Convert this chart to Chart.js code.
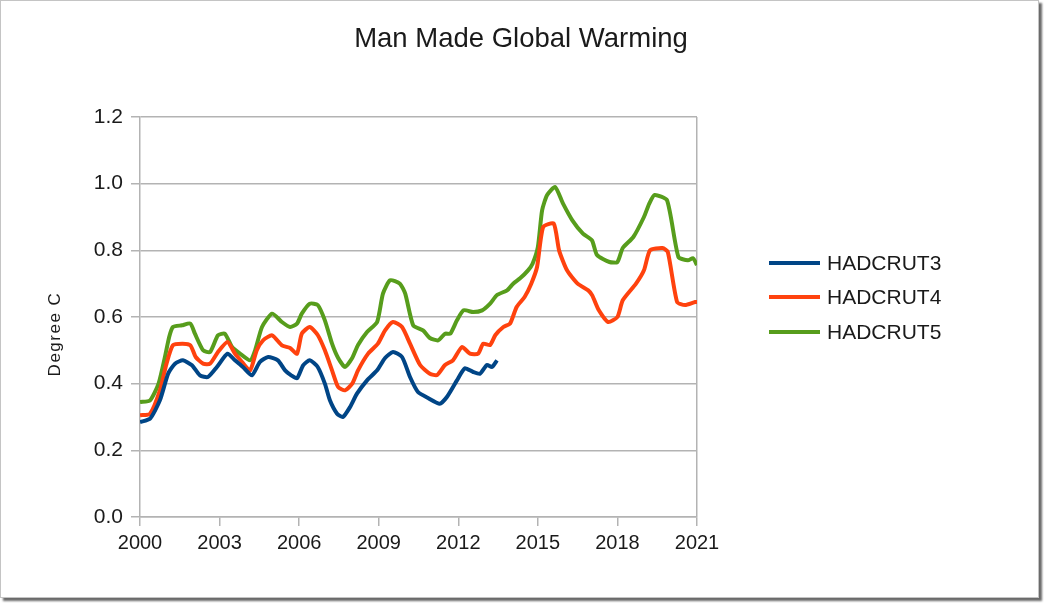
<!DOCTYPE html>
<html>
<head>
<meta charset="utf-8">
<script src="https://cdn.jsdelivr.net/npm/chart.js@4"></script>
<style>
  html, body { margin: 0; padding: 0; background: #fff; }
  #wrap { position: relative; width: 1044px; height: 603px; overflow: hidden; }
  #frame { position: absolute; left: 0; top: 0; width: 1037px; height: 596px;
           border: 1px solid #c4c4c4; box-shadow: 3px 3px 2px #6a6a6a; background: #fff; }
  #c { position: absolute; left: 0; top: 0; }
</style>
</head>
<body>
<div id="wrap">
  <div id="frame"></div>
  <canvas id="c" width="1044" height="603"></canvas>
</div>
<script>
const chartTitle = "Man Made Global Warming";
const yAxisTitle = "Degree C";
const seriesNames = ["HADCRUT3", "HADCRUT4", "HADCRUT5"];
const seriesColors = ["#004586", "#ff420e", "#579d1c"];

const h3Years = [2000.0, 2000.38, 2000.75, 2001.06, 2001.32, 2001.62, 2001.96, 2002.26, 2002.56, 2002.9,
  2003.3, 2003.58, 2003.88, 2004.22, 2004.52, 2004.83, 2005.2, 2005.47, 2005.7, 2005.92,
  2006.15, 2006.4, 2006.7, 2006.97, 2007.16, 2007.43, 2007.65, 2007.92, 2008.18, 2008.56,
  2008.94, 2009.24, 2009.54, 2009.88, 2010.18, 2010.48, 2010.86, 2011.3, 2011.57, 2011.95,
  2012.25, 2012.56, 2012.82, 2013.08, 2013.27, 2013.46];
const h3Values = [0.285, 0.295, 0.35, 0.43, 0.46, 0.47, 0.455, 0.425, 0.42, 0.45,
  0.49, 0.47, 0.45, 0.425, 0.465, 0.48, 0.47, 0.44, 0.425, 0.416,
  0.455, 0.47, 0.45, 0.40, 0.35, 0.31, 0.30, 0.33, 0.37, 0.41,
  0.44, 0.477, 0.495, 0.48, 0.42, 0.375, 0.357, 0.34, 0.36, 0.41,
  0.446, 0.435, 0.43, 0.456, 0.45, 0.47];

const h4Years = [2000.0, 2000.38, 2000.75, 2001.0, 2001.24, 2001.6, 2001.9, 2002.1, 2002.38, 2002.64,
  2002.94, 2003.3, 2003.58, 2003.85, 2004.15, 2004.4, 2004.64, 2004.98, 2005.35, 2005.66,
  2005.92, 2006.1, 2006.4, 2006.7, 2006.97, 2007.24, 2007.47, 2007.73, 2008.0, 2008.22,
  2008.6, 2008.97, 2009.24, 2009.54, 2009.88, 2010.18, 2010.56, 2010.93, 2011.2, 2011.5,
  2011.8, 2012.14, 2012.44, 2012.75, 2012.94, 2013.2, 2013.4, 2013.7, 2013.95, 2014.2,
  2014.5, 2014.75, 2014.97, 2015.2, 2015.6, 2015.8, 2016.1, 2016.5, 2016.9, 2017.05,
  2017.3, 2017.65, 2018.0, 2018.2, 2018.7, 2019.0, 2019.23, 2019.7, 2019.9, 2020.25,
  2020.55, 2020.93, 2021.0];
const h4Values = [0.305, 0.31, 0.38, 0.46, 0.515, 0.52, 0.515, 0.48, 0.46, 0.46,
  0.495, 0.525, 0.49, 0.465, 0.44, 0.50, 0.53, 0.545, 0.515, 0.507,
  0.49, 0.55, 0.57, 0.546, 0.50, 0.44, 0.39, 0.38, 0.40, 0.44,
  0.49, 0.52, 0.56, 0.585, 0.57, 0.52, 0.456, 0.43, 0.426, 0.456,
  0.47, 0.51, 0.49, 0.49, 0.52, 0.516, 0.546, 0.57, 0.58, 0.63,
  0.66, 0.70, 0.75, 0.87, 0.88, 0.80, 0.74, 0.70, 0.68, 0.665,
  0.62, 0.585, 0.60, 0.65, 0.70, 0.74, 0.80, 0.807, 0.795, 0.645,
  0.636, 0.645, 0.645];

const h5Years = [2000.0, 2000.38, 2000.7, 2000.94, 2001.1, 2001.24, 2001.58, 2001.9, 2002.07, 2002.38,
  2002.64, 2002.94, 2003.2, 2003.47, 2003.77, 2004.15, 2004.34, 2004.6, 2004.98, 2005.35,
  2005.66, 2005.92, 2006.1, 2006.4, 2006.7, 2006.97, 2007.24, 2007.47, 2007.73, 2008.0,
  2008.22, 2008.56, 2008.94, 2009.16, 2009.43, 2009.8, 2010.0, 2010.3, 2010.67, 2010.93,
  2011.24, 2011.5, 2011.7, 2011.95, 2012.2, 2012.56, 2012.9, 2013.2, 2013.46, 2013.84,
  2014.07, 2014.33, 2014.63, 2014.8, 2015.0, 2015.16, 2015.35, 2015.65, 2015.95, 2016.3,
  2016.7, 2017.04, 2017.23, 2017.7, 2018.0, 2018.2, 2018.6, 2019.0, 2019.2, 2019.4,
  2019.87, 2020.3, 2020.66, 2020.85, 2021.0];
const h5Values = [0.345, 0.35, 0.40, 0.48, 0.54, 0.57, 0.575, 0.58, 0.55, 0.50,
  0.495, 0.545, 0.55, 0.51, 0.49, 0.47, 0.50, 0.57, 0.61, 0.585,
  0.57, 0.58, 0.61, 0.64, 0.636, 0.59, 0.52, 0.477, 0.45, 0.477,
  0.516, 0.555, 0.585, 0.67, 0.71, 0.70, 0.67, 0.575, 0.56, 0.537,
  0.53, 0.55, 0.55, 0.59, 0.62, 0.615, 0.62, 0.64, 0.666, 0.68,
  0.70, 0.716, 0.74, 0.76, 0.81, 0.92, 0.966, 0.99, 0.94, 0.89,
  0.85, 0.83, 0.786, 0.765, 0.765, 0.807, 0.84, 0.90, 0.94, 0.966,
  0.95, 0.78, 0.77, 0.776, 0.756];

const xTickMin = 2000, xTickMax = 2021, xTickStep = 3;
const yTickMin = 0, yTickMax = 1.2, yTickStep = 0.2;

const allYears = [h3Years, h4Years, h5Years];
const allValues = [h3Values, h4Values, h5Values];

const FONT = "'Liberation Sans', Arial, sans-serif";
const GRID = "#b3b3b3";

const datasets = seriesNames.map((name, i) => ({
  label: name,
  data: allYears[i].map((yr, k) => ({ x: yr, y: allValues[i][k] })),
  borderColor: seriesColors[i],
  backgroundColor: seriesColors[i],
  borderWidth: 4,
  pointRadius: 0,
  tension: 0.2,
  fill: false
}));

const decorPlugin = {
  id: 'decor',
  afterDraw(chart) {
    const ctx = chart.ctx;
    ctx.save();
    // title
    ctx.fillStyle = '#1a1a1a';
    ctx.font = "27.5px " + FONT;
    ctx.textAlign = 'center';
    ctx.textBaseline = 'middle';
    ctx.fillText(chartTitle, 521, 39);
    // y axis title
    ctx.save();
    ctx.translate(55, 334);
    ctx.rotate(-Math.PI / 2);
    ctx.font = "17px " + FONT;
    if ('letterSpacing' in ctx) ctx.letterSpacing = '1.5px';
    ctx.fillText(yAxisTitle, 0, 0);
    ctx.restore();
    // legend
    const ly = [263, 297, 332];
    ctx.font = "21px " + FONT;
    ctx.textAlign = 'left';
    seriesNames.forEach((name, i) => {
      ctx.strokeStyle = seriesColors[i];
      ctx.lineWidth = 4;
      ctx.beginPath();
      ctx.moveTo(769, ly[i]);
      ctx.lineTo(820, ly[i]);
      ctx.stroke();
      ctx.fillStyle = '#1a1a1a';
      ctx.fillText(name, 827, ly[i] + 1);
    });
    ctx.restore();
  }
};

new Chart(document.getElementById('c'), {
  type: 'line',
  data: { datasets },
  options: {
    responsive: false,
    animation: false,
    devicePixelRatio: 1,
    layout: { padding: { top: 117, right: 347, bottom: 0, left: 0 } },
    plugins: { legend: { display: false }, title: { display: false }, tooltip: { enabled: false } },
    scales: {
      x: {
        type: 'linear',
        min: xTickMin, max: xTickMax,
        afterFit(s) { s.height = 86; },
        ticks: { stepSize: xTickStep, color: '#1a1a1a', font: { family: FONT, size: 20 }, padding: 5,
                 callback: v => String(v) },
        grid: {
          color: c => (c.tick && c.tick.value === xTickMax) ? GRID : 'rgba(0,0,0,0)',
          tickColor: GRID, tickLength: 9, lineWidth: 1.5
        },
        border: { display: true, color: GRID, width: 1.5 }
      },
      y: {
        min: yTickMin, max: yTickMax,
        afterFit(s) { s.width = 140; },
        ticks: { stepSize: yTickStep, color: '#1a1a1a', font: { family: FONT, size: 21 }, padding: 8,
                 callback: v => Number(v).toFixed(1) },
        grid: { color: GRID, tickColor: GRID, tickLength: 9, lineWidth: 1.5 },
        border: { display: true, color: GRID, width: 1.5 }
      }
    }
  },
  plugins: [decorPlugin]
});
</script>
</body>
</html>
